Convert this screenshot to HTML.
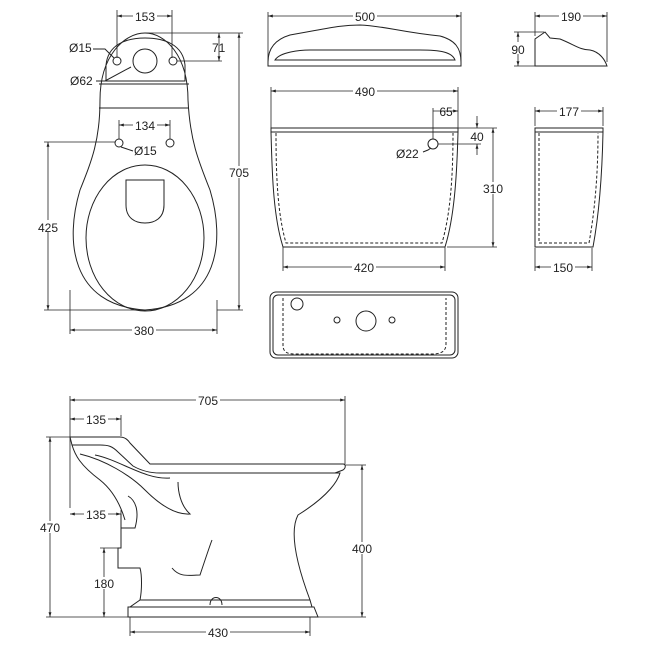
<!DOCTYPE html>
<html><head><style>body{margin:0;background:#fff}svg{display:block}text{font-family:"Liberation Sans",sans-serif;font-size:12px;fill:#222}</style></head><body>
<svg width="650" height="650" viewBox="0 0 650 650" xmlns="http://www.w3.org/2000/svg">
<defs><marker id="a" viewBox="0 0 10 10" refX="10" refY="5" markerWidth="6" markerHeight="6" orient="auto-start-reverse"><path d="M0,2L10,5L0,8z" fill="#222"/></marker></defs>
<g fill="none" stroke="#222" stroke-width="1">
<path d="M100,100 C100,55 125,33 145,33 C165,33 188,55 188,100 C190,140 198,160 210,190 C225,240 220,305 145,310 C70,305 65,240 80,190 C92,160 100,140 100,100Z"/>
<path d="M106,81 L106,65 C108,45 125,38 145,38 C165,38 183,45 185,65 L185,81 Z"/>
<line x1="99" y1="84" x2="189" y2="84"/><line x1="99" y1="108" x2="189" y2="108"/>
<ellipse cx="145" cy="238" rx="59" ry="73"/>
<path d="M126,180 L164,180 L164,205 C164,218 155,223 145,223 C135,223 126,218 126,205Z"/>
<circle cx="117" cy="61" r="4"/><circle cx="173" cy="61" r="4"/><circle cx="145" cy="61" r="12"/>
<circle cx="119" cy="143" r="4"/><circle cx="170" cy="143" r="4"/>
<path d="M93,49 L105,49 L114,58"/><path d="M96,81 L105,81 L131,67"/><path d="M121,147 L133,151"/>
<path d="M268,62 C268,45 280,38 290,35 C330,28 340,25 360,25 C385,26 400,32 440,36 C455,40 461,48 461,62 L461,66 L268,66 Z"/>
<path d="M275,60 C280,52 300,50 310,50 L420,50 C440,50 452,52 455,60 Z"/>
<path d="M535,66 L535,39 L545,32 L550,38 L560,39 C575,45 580,50 590,50 C600,52 605,60 607,66 Z"/>
<path d="M271,128 L458,128 L458,132 C457,170 455,210 447,240 L445,247 L283,247 L281,240 C273,210 272,170 271,132 Z"/>
<line x1="271" y1="132" x2="458" y2="132"/>
<path d="M276,133 C276,180 278,215 286,243 L442,243 C450,215 453,180 453,133" stroke-dasharray="3,2"/>
<circle cx="433" cy="144" r="5"/><path d="M423,152 L428,150 L431,148"/>
<path d="M535,128 L603,128 L603,132 C602,180 598,220 593,247 L535,247 Z"/>
<line x1="535" y1="132" x2="603" y2="132"/>
<path d="M539,133 L539,243 L589,243 C594,215 598,180 598,133" stroke-dasharray="3,2"/>
<rect x="270" y="292" width="188" height="66" rx="6"/>
<rect x="273" y="295" width="182" height="60" rx="5"/>
<path d="M283,298 L283,345 C283,352 287,354 295,354 L432,354 C443,354 446,350 446,344 L446,298" stroke-dasharray="3,2"/>
<circle cx="297" cy="304" r="6"/><circle cx="337" cy="320" r="3"/><circle cx="366" cy="321" r="10"/><circle cx="392" cy="320" r="3"/>
<path d="M70,437 L120,437 C125,437 128,440 130,443 L150,464 L343,464 C346,464 346,468 343,470 L335,473 L160,473 C150,473 140,470 133,466 L118,452 C112,446 108,445 100,445 L72,445 Z"/>
<path d="M72,445 C75,455 80,465 100,480 C115,492 122,510 125,520"/>
<path d="M80,454 C105,460 130,475 145,490 C160,505 175,515 190,514 C180,505 178,490 178,482"/>
<path d="M95,455 C120,460 145,480 170,478"/>
<path d="M163,473 L340,473 C338,480 330,495 298,515 C290,530 295,560 310,600"/>
<line x1="121" y1="514" x2="121" y2="528"/><path d="M121,528 L135,528 C140,510 135,500 128,496"/>
<path d="M121,528 L121,548 L118,548 L118,568 L140,568 C142,575 142,590 140,600"/>
<path d="M172,568 C180,578 190,575 200,575 C205,560 210,545 212,540"/>
<path d="M140,600 L310,600 L312,607 L130,607 Z"/>
<path d="M128,607 L314,607 L318,617 L128,617 Z"/>
<path d="M210,605 C210,595 222,595 222,605"/>
</g>
<g fill="none" stroke="#222" stroke-width="0.8">
<line x1="117" y1="10" x2="117" y2="58"/><line x1="172" y1="10" x2="172" y2="58"/>
<line x1="117" y1="16" x2="172" y2="16" marker-start="url(#a)" marker-end="url(#a)"/>
<line x1="145" y1="33" x2="243" y2="33"/><line x1="217" y1="310" x2="243" y2="310"/>
<line x1="239" y1="33" x2="239" y2="310" marker-start="url(#a)" marker-end="url(#a)"/>
<line x1="177" y1="61" x2="222" y2="61"/>
<line x1="219" y1="33" x2="219" y2="61" marker-start="url(#a)" marker-end="url(#a)"/>
<line x1="119" y1="120" x2="119" y2="139"/><line x1="170" y1="120" x2="170" y2="139"/>
<line x1="119" y1="125" x2="170" y2="125" marker-start="url(#a)" marker-end="url(#a)"/>
<line x1="44" y1="142" x2="115" y2="142"/><line x1="44" y1="310" x2="145" y2="310"/>
<line x1="48" y1="142" x2="48" y2="310" marker-start="url(#a)" marker-end="url(#a)"/>
<line x1="70" y1="290" x2="70" y2="334"/><line x1="217" y1="300" x2="217" y2="334"/>
<line x1="70" y1="330" x2="217" y2="330" marker-start="url(#a)" marker-end="url(#a)"/>
<line x1="268" y1="12" x2="268" y2="62"/><line x1="461" y1="12" x2="461" y2="62"/>
<line x1="268" y1="16" x2="461" y2="16" marker-start="url(#a)" marker-end="url(#a)"/>
<line x1="535" y1="12" x2="535" y2="36"/><line x1="607" y1="12" x2="607" y2="62"/>
<line x1="535" y1="16" x2="607" y2="16" marker-start="url(#a)" marker-end="url(#a)"/>
<line x1="514" y1="32" x2="544" y2="32"/><line x1="514" y1="66" x2="535" y2="66"/>
<line x1="518" y1="32" x2="518" y2="66" marker-start="url(#a)" marker-end="url(#a)"/>
<line x1="271" y1="87" x2="271" y2="128"/><line x1="458" y1="87" x2="458" y2="128"/>
<line x1="271" y1="91" x2="458" y2="91" marker-start="url(#a)" marker-end="url(#a)"/>
<line x1="433" y1="108" x2="433" y2="139"/>
<line x1="433" y1="111" x2="458" y2="111" marker-end="url(#a)"/>
<line x1="438" y1="144" x2="481" y2="144"/>
<line x1="477" y1="116" x2="477" y2="128" marker-end="url(#a)"/><line x1="477" y1="155" x2="477" y2="144" marker-end="url(#a)"/>
<line x1="458" y1="128" x2="497" y2="128"/><line x1="447" y1="247" x2="497" y2="247"/>
<line x1="493" y1="128" x2="493" y2="247" marker-start="url(#a)" marker-end="url(#a)"/>
<line x1="283" y1="247" x2="283" y2="271"/><line x1="445" y1="247" x2="445" y2="271"/>
<line x1="283" y1="267" x2="445" y2="267" marker-start="url(#a)" marker-end="url(#a)"/>
<line x1="535" y1="107" x2="535" y2="126"/><line x1="603" y1="107" x2="603" y2="126"/>
<line x1="535" y1="111" x2="603" y2="111" marker-start="url(#a)" marker-end="url(#a)"/>
<line x1="535" y1="248" x2="535" y2="271"/><line x1="592" y1="248" x2="592" y2="271"/>
<line x1="535" y1="267" x2="592" y2="267" marker-start="url(#a)" marker-end="url(#a)"/>
<line x1="70" y1="396" x2="70" y2="508"/><line x1="345" y1="396" x2="345" y2="464"/>
<line x1="70" y1="400" x2="345" y2="400" marker-start="url(#a)" marker-end="url(#a)"/>
<line x1="121" y1="415" x2="121" y2="436"/>
<line x1="70" y1="419" x2="121" y2="419" marker-start="url(#a)" marker-end="url(#a)"/>
<line x1="121" y1="510" x2="121" y2="514"/>
<line x1="70" y1="514" x2="121" y2="514" marker-start="url(#a)" marker-end="url(#a)"/>
<line x1="46" y1="437" x2="70" y2="437"/><line x1="46" y1="617" x2="128" y2="617"/>
<line x1="50" y1="437" x2="50" y2="617" marker-start="url(#a)" marker-end="url(#a)"/>
<line x1="318" y1="617" x2="366" y2="617"/><line x1="345" y1="465" x2="366" y2="465"/>
<line x1="362" y1="465" x2="362" y2="617" marker-start="url(#a)" marker-end="url(#a)"/>
<line x1="100" y1="548" x2="118" y2="548"/>
<line x1="104" y1="548" x2="104" y2="617" marker-start="url(#a)" marker-end="url(#a)"/>
<line x1="130" y1="617" x2="130" y2="636"/><line x1="310" y1="617" x2="310" y2="636"/>
<line x1="130" y1="632" x2="310" y2="632" marker-start="url(#a)" marker-end="url(#a)"/>
</g>
<g>
<rect x="133" y="10" width="24" height="12" fill="#fff"/><text x="145" y="21" text-anchor="middle">153</text>
<text x="69" y="52">Ø15</text><text x="70" y="85">Ø62</text>
<text x="212" y="52">71</text>
<rect x="227" y="166" width="24" height="12" fill="#fff"/><text x="239" y="177" text-anchor="middle">705</text>
<rect x="133" y="119" width="24" height="12" fill="#fff"/><text x="145" y="130" text-anchor="middle">134</text>
<text x="134" y="155">Ø15</text>
<rect x="36" y="220" width="24" height="12" fill="#fff"/><text x="48" y="232" text-anchor="middle">425</text>
<rect x="132" y="324" width="24" height="12" fill="#fff"/><text x="144" y="335" text-anchor="middle">380</text>
<rect x="353" y="10" width="24" height="12" fill="#fff"/><text x="365" y="21" text-anchor="middle">500</text>
<rect x="559" y="10" width="24" height="12" fill="#fff"/><text x="571" y="21" text-anchor="middle">190</text>
<rect x="510" y="42" width="16" height="12" fill="#fff"/><text x="518" y="54" text-anchor="middle">90</text>
<rect x="353" y="85" width="24" height="12" fill="#fff"/><text x="365" y="96" text-anchor="middle">490</text>
<text x="446" y="116" text-anchor="middle">65</text>
<text x="477" y="141" text-anchor="middle">40</text>
<text x="396" y="158">Ø22</text>
<rect x="481" y="182" width="24" height="12" fill="#fff"/><text x="493" y="193" text-anchor="middle">310</text>
<rect x="352" y="261" width="24" height="12" fill="#fff"/><text x="364" y="272" text-anchor="middle">420</text>
<rect x="557" y="105" width="24" height="12" fill="#fff"/><text x="569" y="116" text-anchor="middle">177</text>
<rect x="551" y="261" width="24" height="12" fill="#fff"/><text x="563" y="272" text-anchor="middle">150</text>
<rect x="196" y="394" width="24" height="12" fill="#fff"/><text x="208" y="405" text-anchor="middle">705</text>
<rect x="84" y="413" width="24" height="12" fill="#fff"/><text x="96" y="424" text-anchor="middle">135</text>
<rect x="84" y="508" width="24" height="12" fill="#fff"/><text x="96" y="519" text-anchor="middle">135</text>
<rect x="38" y="521" width="24" height="12" fill="#fff"/><text x="50" y="532" text-anchor="middle">470</text>
<rect x="350" y="542" width="24" height="12" fill="#fff"/><text x="362" y="553" text-anchor="middle">400</text>
<rect x="92" y="577" width="24" height="12" fill="#fff"/><text x="104" y="588" text-anchor="middle">180</text>
<rect x="206" y="626" width="24" height="12" fill="#fff"/><text x="218" y="637" text-anchor="middle">430</text>
</g>
</svg>
</body></html>
